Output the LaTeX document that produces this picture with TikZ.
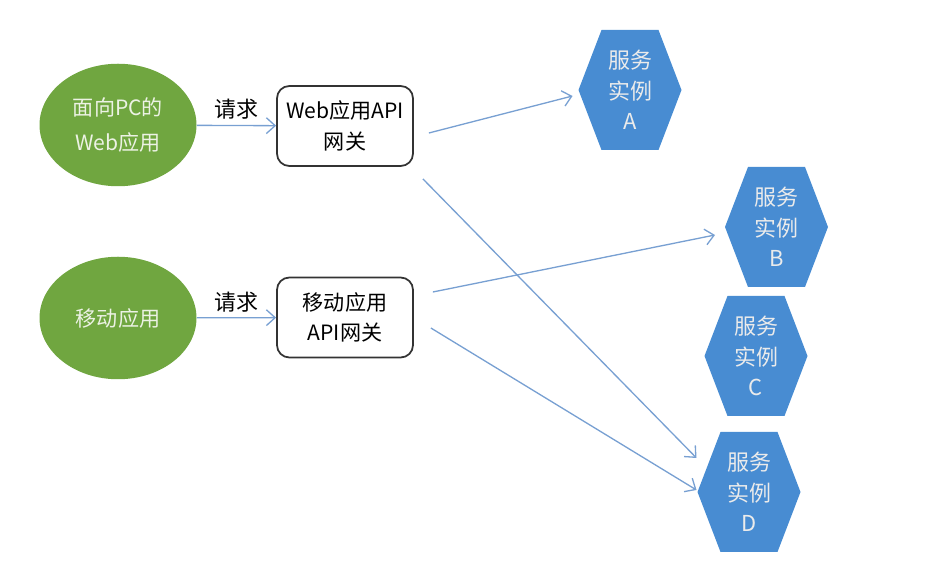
\documentclass[tikz,border=0pt]{standalone}
\usepackage{fontspec}
\setmainfont{Noto Sans CJK SC}
\usetikzlibrary{arrows.meta,backgrounds,shapes.geometric}

\definecolor{verdeapp}{RGB}{112,166,64}
\definecolor{bluserv}{RGB}{72,140,210}
\definecolor{blufreccia}{RGB}{120,160,210}
\definecolor{testochiaro}{RGB}{236,242,228}

% esagono di sfondo attorno a un nodo servizio
\newcommand{\esagono}[1]{%
  \fill[bluserv] (#1.west) -- ([xshift=0.46cm]#1.north west)
    -- ([xshift=-0.46cm]#1.north east) -- (#1.east)
    -- ([xshift=-0.46cm]#1.south east) -- ([xshift=0.46cm]#1.south west) -- cycle;}

\begin{document}
\begin{tikzpicture}[
  applicazione/.style={ellipse, fill=verdeapp, text=testochiaro, minimum width=3.14cm,
    minimum height=2.45cm, align=center, font=\fontsize{12}{20}\selectfont},
  gateway/.style={draw=black!80, line width=1pt, rounded corners=7pt, fill=white,
    minimum width=2.72cm, minimum height=1.6cm, align=center, font=\fontsize{12}{17.5}\selectfont},
  servizio/.style={rectangle, outer sep=0pt, minimum width=2.06cm, minimum height=2.4cm,
    text=white!92!black, align=center, font=\fontsize{12.5}{17.5}\selectfont},
  freccia/.style={draw=blufreccia, line width=0.75pt, -{Straight Barb[length=5pt,width=9pt]}},
  richiesta/.style={font=\fontsize{12.5}{15}\selectfont, inner sep=1pt}
]

\useasboundingbox (0,0) rectangle (18.84,-11.5);

%--------------------------------------------------------------
% Applicazioni client
%--------------------------------------------------------------
\node[applicazione] (pc) at (2.36,-2.50) {面向PC的\\Web应用};
\node[applicazione] (mobile) at (2.36,-6.36) {移动应用};

%--------------------------------------------------------------
% API gateway
%--------------------------------------------------------------
\node[gateway] (webgw) at (6.90,-2.52) {Web应用API\\网关};
\node[gateway] (mobgw) at (6.90,-6.35) {移动应用\\API网关};

%--------------------------------------------------------------
% Istanze di servizio
%--------------------------------------------------------------
\node[servizio] (svcA) at (12.60,-1.80) {服务\\实例\\A};
\node[servizio] (svcB) at (15.53,-4.54) {服务\\实例\\B};
\node[servizio] (svcC) at (15.12,-7.12) {服务\\实例\\C};
\node[servizio] (svcD) at (14.98,-9.84) {服务\\实例\\D};
\begin{scope}[on background layer]
  \esagono{svcA}
  \esagono{svcB}
  \esagono{svcC}
  \esagono{svcD}
\end{scope}

%--------------------------------------------------------------
% Richieste verso i gateway
%--------------------------------------------------------------
\draw[freccia] (pc) -- node[richiesta, above=2pt] {请求} (webgw);
\draw[freccia] (mobile) -- node[richiesta, above=2pt] {请求} (mobgw);

%--------------------------------------------------------------
% Instradamento dai gateway ai servizi
%--------------------------------------------------------------
\draw[freccia] ([xshift=0.30cm, yshift=-0.14cm]webgw.east) -- ([xshift=-0.12cm, yshift=-0.12cm]svcA.west);
\draw[freccia] ([xshift=0.18cm, yshift=-0.24cm]webgw.south east) -- ([xshift=-0.02cm, yshift=0.68cm]svcD.west);
\draw[freccia] ([xshift=0.38cm, yshift=0.51cm]mobgw.east) -- ([xshift=-0.20cm, yshift=-0.16cm]svcB.west);
\draw[freccia] ([xshift=0.34cm, yshift=-0.21cm]mobgw.east) -- ([xshift=-0.02cm, yshift=0.04cm]svcD.west);

\end{tikzpicture}
\end{document}
